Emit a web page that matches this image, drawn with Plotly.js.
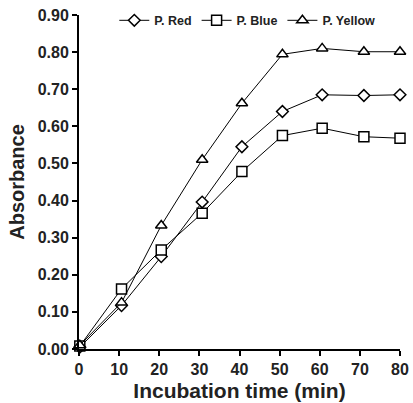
<!DOCTYPE html>
<html><head><meta charset="utf-8">
<script src="https://cdn.plot.ly/plotly-3.0.1.min.js"></script>
<style>html,body{margin:0;padding:0;background:#fff}#chart{width:413px;height:403px}</style>
</head><body><div id="chart"></div>
<script>
const timeRed = [0.2, 10.6, 20.5, 30.7, 40.6, 50.7, 60.6, 71.0, 80.0];
const timeBlue = [0.2, 10.6, 20.5, 30.7, 40.6, 50.7, 60.6, 71.0, 80.0];
const timeYellow = [0.2, 10.6, 20.5, 30.7, 40.6, 50.7, 60.6, 71.0, 80.0];
const red = [0.005, 0.117, 0.249, 0.396, 0.545, 0.640, 0.685, 0.683, 0.685];
const blue = [0.008, 0.162, 0.267, 0.366, 0.478, 0.575, 0.595, 0.572, 0.568];
const yellow = [0.010, 0.125, 0.333, 0.510, 0.662, 0.794, 0.810, 0.801, 0.801];
const seriesNames = ['P. Red', 'P. Blue', 'P. Yellow'];
const xTicks = [0, 10, 20, 30, 40, 50, 60, 70, 80];
const yTicks = [0, 0.1, 0.2, 0.3, 0.4, 0.5, 0.6, 0.7, 0.8, 0.9];

const font = 'Liberation Sans, Arial, sans-serif';
function tr(x, y, name, symbol, size) {
  return {x, y, name: '<b>' + name + '</b>', type: 'scatter', mode: 'lines+markers', cliponaxis: false,
    line: {color: '#000', width: 1},
    marker: {symbol, size, color: '#fff', line: {color: '#000', width: 1.5}}};
}
const data = [
  tr(timeRed, red, seriesNames[0], 'diamond', 9),
  tr(timeBlue, blue, seriesNames[1], 'square', 10),
  tr(timeYellow, yellow, seriesNames[2], 'triangle-up', 10)
];
const axisCommon = {showgrid: false, zeroline: false, showline: true, linecolor: '#000', linewidth: 2,
  ticks: 'outside', ticklen: 5, tickwidth: 2, tickcolor: '#000',
  tickfont: {family: font, size: 16, color: '#222'}};
const layout = {
  width: 413, height: 403,
  margin: {l: 79, r: 13, t: 15, b: 54, autoexpand: false},
  paper_bgcolor: '#fff', plot_bgcolor: '#fff',
  font: {family: font, color: '#222'},
  showlegend: true,
  legend: {orientation: 'h', x: 0.11, y: 0.983, xanchor: 'left', yanchor: 'middle',
    font: {family: font, size: 12.5, color: '#222'}, itemwidth: 30, tracegroupgap: 0,
    bgcolor: 'rgba(0,0,0,0)'},
  xaxis: Object.assign({}, axisCommon, {range: [0, 80], tickvals: xTicks, ticktext: xTicks.map(v => '<b>' + v + '</b>'),
    title: {text: '<b>Incubation time (min)</b>', font: {family: font, size: 21, color: '#222'}, standoff: 6}}),
  yaxis: Object.assign({}, axisCommon, {range: [0, 0.9], tickvals: yTicks, ticktext: yTicks.map(v => '<b>' + v.toFixed(2) + '</b>'),
    title: {text: '<b>Absorbance</b>', font: {family: font, size: 20, color: '#222'}, standoff: 8}})
};
Plotly.newPlot('chart', data, layout, {displayModeBar: false, staticPlot: true});
</script></body></html>
